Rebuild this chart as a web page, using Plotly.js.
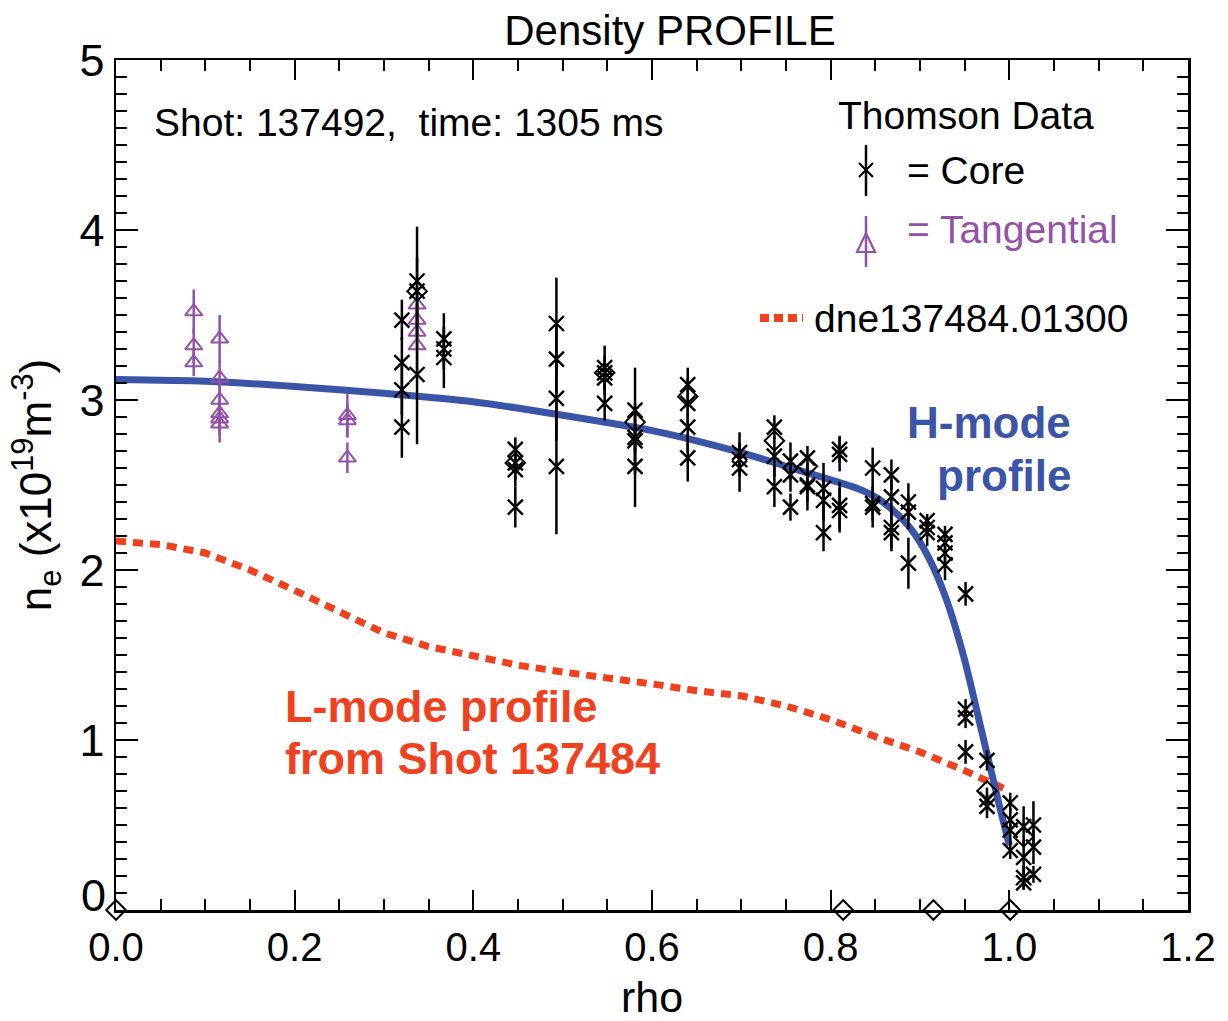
<!DOCTYPE html>
<html><head><meta charset="utf-8">
<script src="https://cdn.plot.ly/plotly-3.0.1.min.js"></script>
<style>html,body{margin:0;padding:0;background:#fff}#chart{width:1228px;height:1021px}</style>
</head><body><div id="chart"></div>
<script>
// H-mode fitted profile
const hRho = [0, 0.1, 0.2, 0.3, 0.4, 0.5, 0.6, 0.65, 0.7, 0.75, 0.8, 0.83, 0.85, 0.87, 0.89, 0.91, 0.93, 0.95, 0.97, 0.99, 1.0];
const hNe  = [3.12, 3.11, 3.08, 3.04, 2.99, 2.91, 2.82, 2.76, 2.69, 2.61, 2.53, 2.48, 2.43, 2.35, 2.24, 2.07, 1.82, 1.47, 1.03, 0.59, 0.38];
// L-mode profile (dne137484.01300)
const lRho = [0, 0.05, 0.1, 0.15, 0.2, 0.25, 0.3, 0.35, 0.4, 0.45, 0.5, 0.55, 0.6, 0.65, 0.7, 0.75, 0.8, 0.85, 0.9, 0.95, 1.0];
const lNe  = [2.17, 2.15, 2.10, 2.00, 1.88, 1.75, 1.63, 1.55, 1.49, 1.44, 1.40, 1.37, 1.33, 1.29, 1.26, 1.20, 1.12, 1.02, 0.93, 0.82, 0.70];
// Thomson core
const coreRho = [0.32,0.32,0.32,0.32, 0.337,0.337,0.337, 0.367,0.367,0.367, 0.447,0.447,0.447,0.447,
  0.493,0.493,0.493,0.493, 0.547,0.547,0.547,0.547, 0.581,0.581,0.581,0.581, 0.64,0.64,0.64,0.64,
  0.698,0.698,0.698, 0.737,0.737,0.737, 0.755,0.755,0.755, 0.774,0.774,0.774, 0.792,0.792,0.792,
  0.81,0.81,0.81,0.81, 0.847,0.847,0.847, 0.868,0.868,0.868,0.868, 0.887,0.887,0.887,
  0.908,0.908,0.908, 0.928,0.928,0.928,0.928, 0.951, 0.951,0.951,0.951, 0.975,0.975,0.975,
  1.001,1.001,1.001,1.001, 1.016,1.016,1.016,1.016, 1.027,1.027,1.027];
const coreNe = [3.47,3.22,3.06,2.84, 3.70,3.64,3.15, 3.36,3.30,3.25, 2.71,2.63,2.59,2.37,
  3.45,3.24,3.01,2.61, 3.19,3.16,3.13,2.98, 2.94,2.78,2.76,2.61, 3.09,2.98,2.84,2.66,
  2.69,2.65,2.60, 2.84,2.67,2.49, 2.64,2.56,2.37, 2.66,2.50,2.49, 2.48,2.41,2.22,
  2.71,2.68,2.38,2.35, 2.60,2.39,2.37, 2.56,2.43,2.25,2.22, 2.40,2.34,2.04,
  2.29,2.25,2.22, 2.21,2.16,2.10,2.03, 1.86, 1.18,1.13,0.93, 0.88,0.65,0.61,
  0.63,0.53,0.47,0.35, 0.49,0.31,0.19,0.16, 0.50,0.37,0.21];
const coreErr = [0.12,0.15,0.15,0.18, 0.32,0.20,0.41, 0.15,0.12,0.18, 0.07,0.10,0.10,0.12,
  0.27,0.20,0.25,0.40, 0.13,0.10,0.10,0.10, 0.25,0.20,0.20,0.24, 0.10,0.15,0.15,0.14,
  0.12,0.10,0.14, 0.07,0.12,0.12, 0.11,0.10,0.08, 0.07,0.10,0.14, 0.15,0.12,0.11,
  0.08,0.10,0.14,0.13, 0.12,0.10,0.12, 0.09,0.10,0.12,0.11, 0.11,0.10,0.15,
  0.04,0.05,0.08, 0.05,0.05,0.07,0.09, 0.07, 0.06,0.06,0.07, 0.06,0.07,0.07,
  0.06,0.07,0.08,0.05, 0.12,0.10,0.07,0.04, 0.14,0.10,0.05];
// Thomson tangential
const tanRho = [0.087,0.087,0.087, 0.116,0.116,0.116,0.116,0.116,0.116, 0.259,0.259,0.259, 0.337,0.337,0.337,0.337];
const tanNe  = [3.52,3.32,3.22, 3.36,3.13,3.00,2.92,2.89,2.86, 2.91,2.88,2.66, 3.56,3.47,3.40,3.32];
const tanErr = [0.13,0.10,0.08, 0.14,0.10,0.10,0.10,0.10,0.11, 0.13,0.10,0.09, 0.10,0.10,0.10,0.16];
// diamond-marked points
const diaRho = [0.0, 0.814, 0.915, 1.001, 0.337, 0.447, 0.547, 0.581, 0.64, 0.737, 0.774, 0.975, 1.016];
const diaNe  = [0.0, 0.0, 0.0, 0.0, 3.64, 2.63, 3.16, 2.87, 3.02, 2.76, 2.61, 0.70, 0.43];

const xTickVals = [0, 0.2, 0.4, 0.6, 0.8, 1.0, 1.2];
const xTickText = ['0.0','0.2','0.4','0.6','0.8','1.0','1.2'];
const yTickVals = [1, 2, 3, 4, 5];
const yTickText = ['1', '2', '3', '4', '5'];

const BLUE = '#3a55a7', RED = '#f0411f', PURPLE = '#9252a8';
const FONT = 'Liberation Sans, Arial, Helvetica, sans-serif';
const L = 116, R = 1188, T = 60, B = 910;
const px = x => (x - L) / (R - L);
const py = y => (B - y) / (B - T);

const traces = [
  {x: lRho, y: lNe, type: 'scatter', mode: 'lines', line: {color: RED, width: 7, dash: '10px,7px'}, hoverinfo: 'skip'},
  {x: hRho, y: hNe, type: 'scatter', mode: 'lines', line: {color: BLUE, width: 7, shape: 'spline', smoothing: 0.7}, hoverinfo: 'skip'},
  {x: tanRho, y: tanNe, type: 'scatter', mode: 'markers',
   marker: {symbol: 'triangle-up-open', size: 15, color: PURPLE, line: {color: PURPLE, width: 2}},
   error_y: {type: 'data', array: tanErr, visible: true, color: PURPLE, thickness: 2.5, width: 0}},
  {x: coreRho, y: coreNe, type: 'scatter', mode: 'markers',
   marker: {symbol: 'x-thin-open', size: 15, color: '#000', line: {color: '#000', width: 2.4}},
   error_y: {type: 'data', array: coreErr, visible: true, color: '#000', thickness: 2.5, width: 0}},
  {x: diaRho, y: diaNe, type: 'scatter', mode: 'markers', cliponaxis: false,
   marker: {symbol: 'diamond-open', size: 15, color: '#000', line: {color: '#000', width: 2}}}
];

const ann = (x, y, text, opts) => Object.assign({xref: 'paper', yref: 'paper', x: px(x), y: py(y), text: text,
  showarrow: false, xanchor: 'left', yanchor: 'middle', font: {family: FONT, size: 39, color: '#000'}}, opts || {});

const layout = {
  width: 1228, height: 1021,
  margin: {l: L, r: 1228 - R, t: T, b: 1021 - B, pad: 0},
  paper_bgcolor: '#fff', plot_bgcolor: '#fff',
  showlegend: false,
  font: {family: FONT, color: '#000'},
  title: {text: 'Density PROFILE', font: {family: FONT, size: 42, color: '#000'},
          x: px(670), xref: 'paper', xanchor: 'center', y: 1 - 30 / 1021, yref: 'container', yanchor: 'middle'},
  xaxis: {range: [0, 1.2], tickmode: 'array', tickvals: xTickVals, ticktext: xTickText,
    ticks: 'inside', ticklen: 20, tickwidth: 2, tickcolor: '#000',
    showline: true, linewidth: 2.5, linecolor: '#000', mirror: 'allticks',
    showgrid: false, zeroline: false,
    tickfont: {family: FONT, size: 40, color: '#000'},
    minor: {tick0: 0, dtick: 0.05, ticks: 'inside', ticklen: 11, tickwidth: 2, tickcolor: '#000', showgrid: false},
    title: {text: 'rho', font: {family: FONT, size: 43, color: '#000'}, standoff: 20}},
  yaxis: {range: [0, 5], tickmode: 'array', tickvals: yTickVals, ticktext: yTickText,
    ticks: 'inside', ticklen: 22, tickwidth: 2, tickcolor: '#000',
    showline: true, linewidth: 2.5, linecolor: '#000', mirror: 'allticks',
    showgrid: false, zeroline: false,
    tickfont: {family: FONT, size: 45, color: '#000'},
    minor: {tick0: 0, dtick: 0.1, ticks: 'inside', ticklen: 11, tickwidth: 2, tickcolor: '#000', showgrid: false},
    title: {text: 'n<sub>e</sub> (x10<sup>19</sup>m<sup>-3</sup>)', font: {family: FONT, size: 44, color: '#000'}, standoff: 14}},
  annotations: [
    ann(108, 895, '0', {xanchor: 'right', font: {family: FONT, size: 45, color: '#000'}}),
    ann(152, 122, 'Shot: 137492,  time: 1305 ms'),
    ann(966, 115, 'Thomson Data', {xanchor: 'center'}),
    ann(905, 170, '= Core'),
    ann(905, 229, '= Tangential', {font: {family: FONT, size: 39, color: PURPLE}}),
    ann(812, 318, 'dne137484.01300'),
    ann(1073, 422, '<b>H-mode</b>', {xanchor: 'right', font: {family: FONT, size: 44, color: BLUE}}),
    ann(1073, 475, '<b>profile</b>', {xanchor: 'right', font: {family: FONT, size: 44, color: BLUE}}),
    ann(283, 706, '<b>L-mode profile</b>', {font: {family: FONT, size: 45, color: RED}}),
    ann(283, 758, '<b>from Shot 137484</b>', {font: {family: FONT, size: 45, color: RED}})
  ],
  shapes: [
    {type: 'line', xref: 'paper', yref: 'paper', x0: px(866), x1: px(866), y0: py(145), y1: py(196), line: {color: '#000', width: 2.5}},
    {type: 'line', xref: 'paper', yref: 'paper', x0: px(859), x1: px(873), y0: py(163), y1: py(177), line: {color: '#000', width: 2.2}},
    {type: 'line', xref: 'paper', yref: 'paper', x0: px(859), x1: px(873), y0: py(177), y1: py(163), line: {color: '#000', width: 2.2}},
    {type: 'line', xref: 'paper', yref: 'paper', x0: px(866), x1: px(866), y0: py(216), y1: py(267), line: {color: PURPLE, width: 2.5}},
    {type: 'path', xref: 'paper', yref: 'paper',
     path: 'M' + px(857) + ',' + py(252) + ' L' + px(866) + ',' + py(233) + ' L' + px(875) + ',' + py(252) + ' Z',
     line: {color: PURPLE, width: 2.2}, fillcolor: 'rgba(0,0,0,0)'},
    {type: 'line', xref: 'paper', yref: 'paper', x0: px(760), x1: px(803), y0: py(318), y1: py(318), line: {color: RED, width: 8, dash: '9px,5px'}}
  ]
};

Plotly.newPlot('chart', traces, layout, {displayModeBar: false, staticPlot: true});
</script>
</body></html>
